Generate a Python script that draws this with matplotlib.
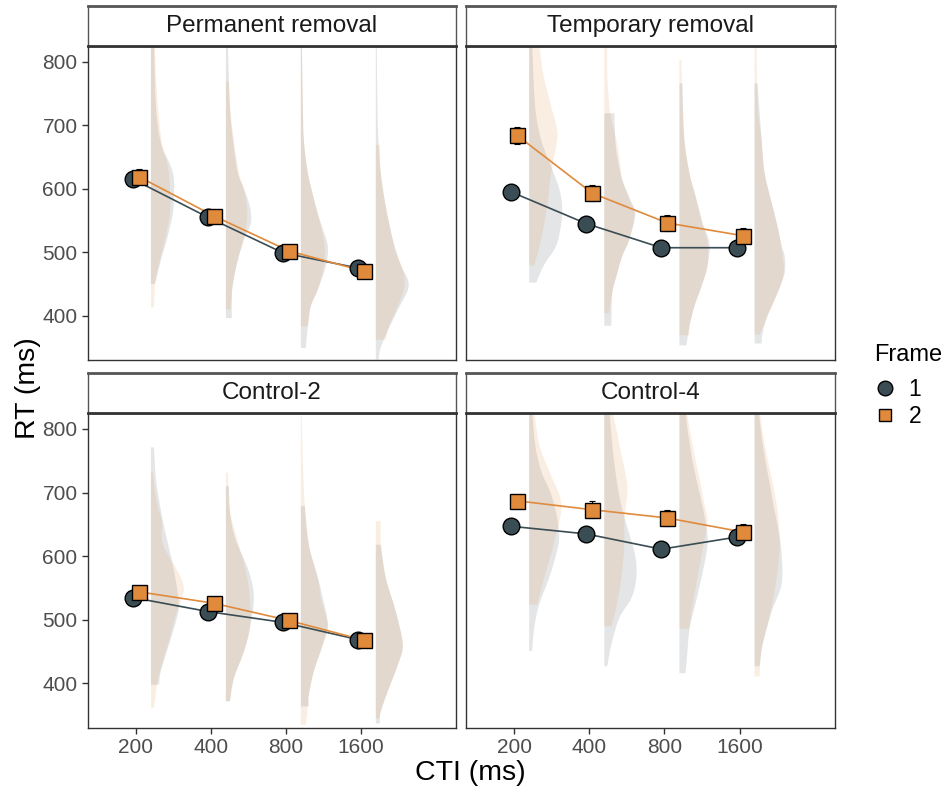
import matplotlib
matplotlib.use("Agg")
import matplotlib.pyplot as plt
from matplotlib.lines import Line2D
from matplotlib.path import Path
from matplotlib.patches import PathPatch

plt.rcParams['font.family'] = ['Liberation Sans', 'DejaVu Sans']

# ---------------- data ----------------
cti_labels = ['200', '400', '800', '1600']
panel_titles = ['Permanent removal', 'Temporary removal', 'Control-2', 'Control-4']
frame_labels = ['1', '2']

# mean RT per CTI (ms)
perm_f1 = [615, 555, 499, 475]
perm_f2 = [619, 557, 502, 470]
temp_f1 = [595, 545, 507, 507]
temp_f2 = [684, 593, 546, 526]
ctrl2_f1 = [535, 513, 496, 469]
ctrl2_f2 = [544, 526, 499, 468]
ctrl4_f1 = [647, 635, 611, 630]
ctrl4_f2 = [687, 673, 660, 638]

# error (ms)
perm_f1_se = [10, 8, 8, 8]
perm_f2_se = [12, 9, 9, 7]
temp_f1_se = [10, 9, 9, 9]
temp_f2_se = [14, 13, 13, 12]
ctrl2_f1_se = [9, 8, 8, 7]
ctrl2_f2_se = [9, 8, 10, 7]
ctrl4_f1_se = [10, 9, 10, 10]
ctrl4_f2_se = [9, 13, 13, 13]

# half-violin density profiles: (RT, relative width) per CTI
vio_perm_f1 = [
    [(450, 4), (468, 7), (494, 11), (520, 16), (562, 22), (590, 23), (615, 23), (635, 20), (672, 10), (730, 5), (830, 3)],
    [(396, 6), (436, 6), (467, 9), (494, 13), (520, 18), (546, 25), (572, 24), (600, 18), (625, 12), (677, 7), (730, 4), (830, 2)],
    [(349, 5), (383, 7), (415, 10), (441, 17), (478, 25), (509, 27), (541, 21), (572, 15), (625, 7), (677, 3), (730, 2), (830, 1)],
    [(331, 3), (345, 4), (362, 8), (383, 14), (415, 24), (440, 32), (457, 32), (480, 25), (520, 17), (572, 10), (625, 5), (700, 2), (830, 1)],
]
vio_perm_f2 = [
    [(413, 3), (450, 4), (468, 6), (494, 10), (520, 14), (562, 19), (600, 19), (635, 17), (672, 11), (730, 7), (780, 5), (830, 4)],
    [(410, 5), (436, 6), (467, 9), (494, 13), (520, 18), (550, 21), (572, 21), (600, 18), (625, 13), (677, 8), (730, 4), (769, 3)],
    [(383, 7), (415, 10), (441, 17), (478, 23), (509, 24), (541, 20), (572, 15), (625, 7), (677, 3), (730, 2), (830, 1)],
    [(362, 10), (383, 13), (415, 22), (441, 28), (467, 28), (500, 20), (520, 17), (572, 10), (625, 5), (669, 4)],
]
vio_temp_f1 = [
    [(452, 7), (480, 15), (510, 27), (545, 32), (572, 33), (600, 30), (635, 22), (677, 12), (730, 6), (830, 3)],
    [(384, 7), (436, 8), (467, 13), (494, 18), (520, 25), (560, 31), (583, 26), (614, 18), (650, 13), (677, 11), (719, 10)],
    [(353, 7), (383, 10), (415, 15), (446, 22), (478, 28), (514, 30), (546, 23), (583, 17), (625, 10), (677, 5), (766, 3)],
    [(356, 7), (373, 8), (400, 13), (436, 23), (467, 30), (494, 30), (509, 27), (540, 23), (572, 18), (625, 10), (677, 7), (766, 3)],
]
vio_temp_f2 = [
    [(479, 5), (520, 12), (572, 18), (625, 22), (677, 28), (700, 27), (730, 22), (782, 14), (830, 10)],
    [(404, 5), (436, 8), (467, 13), (494, 18), (520, 25), (560, 30), (583, 25), (614, 18), (650, 15), (677, 12), (719, 6), (780, 3), (830, 3)],
    [(369, 10), (383, 10), (415, 15), (446, 22), (478, 28), (514, 28), (546, 23), (583, 17), (625, 10), (677, 5), (730, 3), (803, 2)],
    [(370, 5), (400, 13), (436, 23), (467, 29), (494, 28), (509, 27), (540, 23), (572, 18), (625, 10), (677, 7), (730, 3), (830, 2)],
]
vio_ctrl2_f1 = [
    [(398, 8), (420, 10), (461, 18), (503, 26), (525, 28), (560, 25), (600, 20), (640, 14), (671, 10), (720, 5), (771, 3)],
    [(372, 4), (408, 8), (450, 18), (487, 24), (534, 28), (576, 23), (629, 9), (671, 4), (710, 3)],
    [(364, 8), (382, 8), (419, 13), (461, 22), (492, 27), (534, 22), (566, 17), (618, 8), (679, 4)],
    [(337, 4), (356, 5), (392, 13), (429, 22), (461, 27), (513, 20), (566, 10), (618, 5)],
]
vio_ctrl2_f2 = [
    [(362, 3), (398, 6), (420, 9), (461, 17), (503, 24), (530, 30), (550, 33), (576, 27), (618, 12), (655, 11), (671, 8), (700, 4), (731, 2)],
    [(372, 4), (408, 8), (450, 18), (487, 24), (534, 24), (576, 20), (629, 11), (671, 4), (731, 2)],
    [(335, 5), (364, 7), (382, 8), (419, 13), (461, 22), (492, 27), (534, 20), (566, 17), (618, 8), (679, 4), (750, 2), (820, 1)],
    [(345, 4), (356, 5), (392, 13), (429, 22), (461, 27), (513, 20), (566, 10), (618, 5), (655, 5)],
]
vio_ctrl4_f1 = [
    [(451, 3), (487, 5), (524, 10), (566, 20), (603, 27), (629, 30), (660, 28), (697, 22), (734, 12), (776, 6), (830, 3)],
    [(427, 3), (461, 7), (503, 15), (534, 27), (566, 32), (600, 31), (640, 24), (680, 17), (723, 12), (776, 8), (830, 5)],
    [(416, 6), (450, 8), (486, 10), (513, 14), (566, 22), (618, 28), (655, 26), (700, 20), (750, 13), (800, 8), (830, 6)],
    [(427, 5), (461, 8), (513, 17), (556, 27), (603, 27), (640, 24), (671, 20), (723, 14), (776, 8), (830, 4)],
]
vio_ctrl4_f2 = [
    [(524, 8), (566, 15), (603, 22), (629, 26), (671, 32), (697, 30), (734, 20), (776, 10), (830, 5)],
    [(490, 7), (520, 12), (566, 17), (618, 20), (655, 20), (700, 23), (723, 22), (760, 17), (800, 12), (830, 8)],
    [(486, 10), (513, 12), (566, 18), (618, 24), (655, 28), (681, 25), (723, 20), (776, 13), (830, 7)],
    [(411, 5), (440, 6), (461, 8), (513, 16), (566, 22), (618, 25), (671, 23), (723, 17), (776, 10), (830, 5)],
]

means = [(perm_f1, perm_f2), (temp_f1, temp_f2), (ctrl2_f1, ctrl2_f2), (ctrl4_f1, ctrl4_f2)]
errs = [(perm_f1_se, perm_f2_se), (temp_f1_se, temp_f2_se), (ctrl2_f1_se, ctrl2_f2_se), (ctrl4_f1_se, ctrl4_f2_se)]
violins = [(vio_perm_f1, vio_perm_f2), (vio_temp_f1, vio_temp_f2),
           (vio_ctrl2_f1, vio_ctrl2_f2), (vio_ctrl4_f1, vio_ctrl4_f2)]

# ---------------- style ----------------
W, H = 944, 790
col = ['#3A4C54', '#E08A3C']
markers = ['o', 's']
msize = [12.0, 10.8]
dodge = [-0.04, 0.04]
vio_offset = 0.2
vio_scale = 1 / 75.0
axis_col = '#333333'
tick_col = '#4D4D4D'


def rect(l, t, r, b):
    return [l / W, 1 - b / H, (r - l) / W, (b - t) / H]


def half_violin_path(base, prof):
    """Smooth outline (Catmull-Rom drawn as Bezier) through the read profile points."""
    pts = [(base + w * vio_scale, y) for y, w in prof]
    verts = [(base, pts[0][1]), pts[0]]
    codes = [Path.MOVETO, Path.LINETO]
    n = len(pts)
    for j in range(n - 1):
        p0 = pts[j - 1] if j > 0 else pts[j]
        p1 = pts[j]
        p2 = pts[j + 1]
        p3 = pts[j + 2] if j + 2 < n else pts[j + 1]
        c1 = (p1[0] + (p2[0] - p0[0]) / 6, p1[1] + (p2[1] - p0[1]) / 6)
        c2 = (p2[0] - (p3[0] - p1[0]) / 6, p2[1] - (p3[1] - p1[1]) / 6)
        verts += [c1, c2, p2]
        codes += [Path.CURVE4, Path.CURVE4, Path.CURVE4]
    verts += [(base, pts[-1][1]), (base, pts[0][1])]
    codes += [Path.LINETO, Path.CLOSEPOLY]
    return Path(verts, codes)


panel_px = [(88, 46, 456, 360), (466, 46, 835, 360), (88, 413, 456, 728), (466, 413, 835, 728)]
strip_px = [(88, 6, 456, 46), (466, 6, 835, 46), (88, 373, 456, 413), (466, 373, 835, 413)]

fig = plt.figure(figsize=(W / 100, H / 100), dpi=100)
xpos = list(range(1, len(cti_labels) + 1))

for i in range(4):
    ax = fig.add_axes(rect(*panel_px[i]))
    # violins
    for f in range(2):
        for k, prof in enumerate(violins[i][f]):
            patch = PathPatch(half_violin_path(xpos[k] + vio_offset, prof),
                              facecolor=col[f], alpha=0.14, linewidth=0, zorder=1)
            ax.add_patch(patch)
    for f in range(2):
        xs = [x + dodge[f] for x in xpos]
        ax.plot(xs, means[i][f], color=col[f], lw=1.2, zorder=3)
        ax.errorbar(xs, means[i][f], yerr=errs[i][f], fmt='none', ecolor='black',
                    elinewidth=0.8, capsize=2, capthick=0.8, zorder=4)
    for f in range(2):
        xs = [x + dodge[f] for x in xpos]
        ax.plot(xs, means[i][f], linestyle='none', marker=markers[f], ms=msize[f],
                mfc=col[f], mec='black', mew=1.0, zorder=5)
    ax.set_xlim(0.36, 5.27)
    ax.set_ylim(330, 825)
    ax.set_yticks([400, 500, 600, 700, 800])
    ax.set_xticks(xpos)
    for s in ax.spines.values():
        s.set_color(axis_col)
        s.set_linewidth(1.0)
    ax.tick_params(colors=axis_col, labelcolor=tick_col, labelsize=15, length=4, width=1.0)
    if i % 2 == 0:
        ax.set_yticklabels([str(v) for v in [400, 500, 600, 700, 800]])
    else:
        ax.tick_params(axis='y', length=0, labelleft=False)
    if i >= 2:
        ax.set_xticklabels(cti_labels)
    else:
        ax.tick_params(axis='x', length=0, labelbottom=False)

    # strip
    sax = fig.add_axes(rect(*strip_px[i]))
    sax.set_xticks([])
    sax.set_yticks([])
    for s in sax.spines.values():
        s.set_color('#555555')
        s.set_linewidth(1.0)
    sax.spines['bottom'].set_color(axis_col)
    sax.spines['bottom'].set_linewidth(2.0)
    sax.spines['top'].set_linewidth(2.0)
    sax.text(0.5, 0.5, panel_titles[i], ha='center', va='center', fontsize=17.5,
             color='#1A1A1A', transform=sax.transAxes)

fig.text(470 / W, 1 - 773 / H, 'CTI (ms)', ha='center', va='center', fontsize=20.5, color='black')
fig.text(28 / W, 1 - 388 / H, 'RT (ms)', ha='center', va='center', fontsize=20.5,
         rotation=90, color='black')

handles = [Line2D([], [], linestyle='none', marker=markers[f], ms=[10.5, 9][f],
                  mfc=col[f], mec='black', mew=1.0) for f in range(2)]
leg = fig.legend(handles, frame_labels, title='Frame', loc='upper left',
                 bbox_to_anchor=(874 / W, 1 - 344 / H), frameon=False,
                 fontsize=16.5, title_fontsize=17, handletextpad=0.5,
                 labelspacing=0.15, handlelength=1.0, alignment='left', borderpad=0,
                 borderaxespad=0)
leg._legend_box.sep = 9

fig.savefig('out.png', dpi=100)
